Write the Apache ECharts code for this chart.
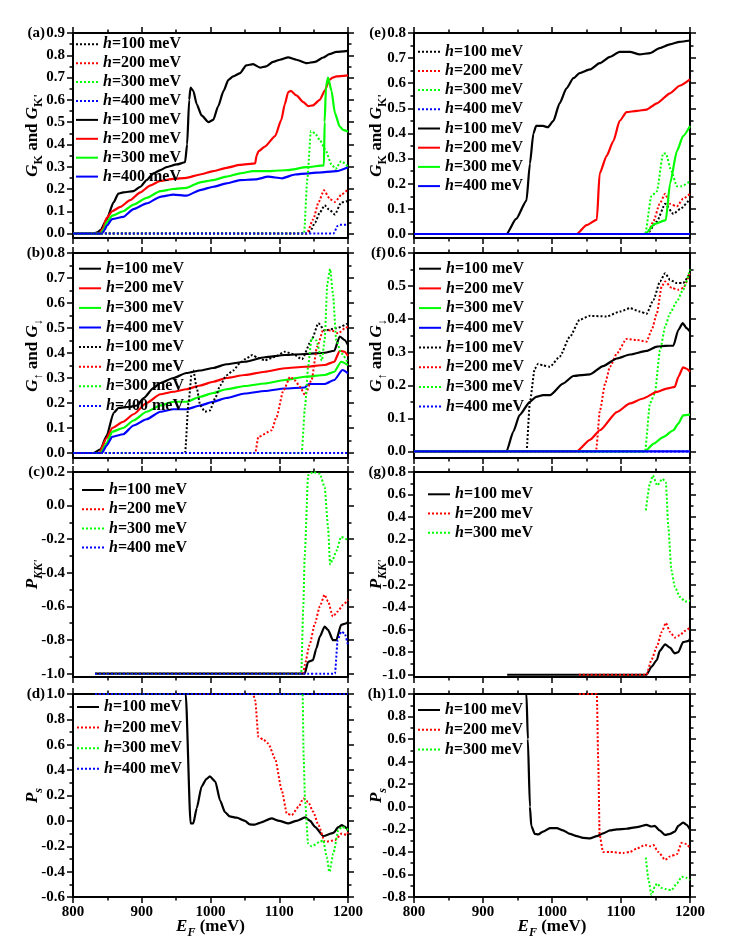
<!DOCTYPE html>
<html><head><meta charset="utf-8">
<script src="https://cdn.jsdelivr.net/npm/echarts@6/dist/echarts.min.js"></script>
<style>html,body{margin:0;padding:0;background:#fff}#c{width:747px;height:945px}</style>
</head><body><div id="c"></div>
<script>
const FONT = '"Liberation Serif","Times New Roman",serif';
// ---------- tick values ----------
const xTicks = [800, 900, 1000, 1100, 1200];
const yTicksA = [0, 0.1, 0.2, 0.3, 0.4, 0.5, 0.6, 0.7, 0.8, 0.9];
const yTicksB = [0, 0.1, 0.2, 0.3, 0.4, 0.5, 0.6, 0.7, 0.8];
const yTicksC = [-1.0, -0.8, -0.6, -0.4, -0.2, 0, 0.2];
const yTicksD = [-0.6, -0.4, -0.2, 0, 0.2, 0.4, 0.6, 0.8, 1.0];
const yTicksE = [0, 0.1, 0.2, 0.3, 0.4, 0.5, 0.6, 0.7, 0.8];
const yTicksF = [0, 0.1, 0.2, 0.3, 0.4, 0.5, 0.6];
const yTicksG = [-1.0, -0.8, -0.6, -0.4, -0.2, 0, 0.2, 0.4, 0.6, 0.8];
const yTicksH = [-0.8, -0.6, -0.4, -0.2, 0, 0.2, 0.4, 0.6, 0.8, 1.0];

// ---------- (a) G_K and G_K' ----------
const a_s100 = [[800,0],[830,0],[835,0.005],[840,0.015],[849,0.064],[859,0.14],[866,0.179],[873,0.185],[888,0.19],[898,0.21],[907,0.24],[917,0.27],[927,0.285],[936,0.298],[951,0.31],[963,0.32],[966,0.4],[969,0.6],[971,0.655],[975,0.64],[980,0.58],[987,0.53],[997,0.50],[1004,0.51],[1011,0.57],[1019,0.64],[1026,0.69],[1033,0.705],[1043,0.72],[1052,0.755],[1062,0.76],[1072,0.745],[1081,0.75],[1091,0.77],[1101,0.78],[1113,0.791],[1125,0.78],[1140,0.765],[1152,0.77],[1164,0.79],[1173,0.805],[1183,0.815],[1200,0.82]];
const a_s200 = [[800,0],[838,0],[843,0.02],[849,0.07],[857,0.10],[869,0.12],[883,0.15],[898,0.185],[912,0.215],[927,0.236],[946,0.245],[965,0.25],[985,0.265],[1004,0.28],[1023,0.295],[1043,0.308],[1065,0.315],[1067,0.35],[1070,0.37],[1079,0.39],[1094,0.437],[1103,0.51],[1108,0.58],[1113,0.635],[1117,0.64],[1125,0.62],[1135,0.59],[1142,0.572],[1149,0.575],[1159,0.60],[1166,0.64],[1173,0.69],[1178,0.70],[1183,0.705],[1200,0.71]];
const a_s300 = [[800,0],[840,0],[845,0.02],[849,0.05],[857,0.08],[873,0.10],[888,0.13],[907,0.16],[927,0.19],[946,0.20],[965,0.205],[985,0.23],[1004,0.24],[1023,0.255],[1043,0.27],[1062,0.28],[1081,0.28],[1101,0.283],[1113,0.285],[1140,0.298],[1165,0.306],[1166,0.5],[1168,0.66],[1171,0.70],[1176,0.64],[1181,0.54],[1188,0.48],[1193,0.465],[1200,0.457]];
const a_s400 = [[800,0],[842,0],[846,0.015],[849,0.035],[857,0.065],[873,0.075],[888,0.11],[907,0.135],[927,0.165],[946,0.175],[965,0.17],[985,0.195],[1004,0.21],[1023,0.225],[1043,0.24],[1065,0.243],[1084,0.255],[1104,0.248],[1123,0.265],[1142,0.27],[1166,0.276],[1183,0.28],[1200,0.298]];
const a_d100 = [[800,0],[1140,0],[1145,0.01],[1152,0.049],[1159,0.094],[1166,0.127],[1172,0.109],[1181,0.086],[1190,0.139],[1200,0.146]];
const a_d200 = [[800,0],[1140,0],[1149.5,0.064],[1157,0.139],[1165,0.194],[1174,0.154],[1181,0.142],[1191,0.176],[1200,0.198]];
const a_d300 = [[800,0],[1136,0],[1141,0.25],[1146,0.46],[1152,0.45],[1159,0.42],[1167,0.377],[1176,0.31],[1182,0.29],[1190,0.325],[1200,0.30]];
const a_d400 = [[800,0],[1179,0],[1185,0.035],[1188,0.04],[1200,0.04]];

// ---------- (b) G_up and G_down ----------
const b_s100 = [[800,0],[830,0],[840,0.015],[849,0.07],[859,0.16],[866,0.18],[883,0.185],[893,0.19],[903,0.22],[917,0.26],[927,0.28],[946,0.30],[965,0.32],[985,0.33],[1004,0.34],[1023,0.355],[1050,0.365],[1079,0.383],[1108,0.392],[1137,0.396],[1166,0.401],[1180,0.409],[1188,0.466],[1195,0.452],[1200,0.432]];
const b_s200 = [[800,0],[838,0],[849,0.06],[857,0.10],[873,0.125],[888,0.155],[907,0.20],[927,0.235],[946,0.245],[965,0.255],[985,0.27],[1004,0.285],[1023,0.30],[1050,0.312],[1079,0.325],[1108,0.339],[1137,0.345],[1166,0.352],[1180,0.365],[1188,0.409],[1195,0.405],[1200,0.388]];
const b_s300 = [[800,0],[840,0],[849,0.04],[857,0.085],[873,0.10],[888,0.13],[907,0.165],[927,0.19],[946,0.205],[965,0.205],[985,0.225],[1004,0.24],[1023,0.255],[1050,0.268],[1079,0.278],[1108,0.292],[1137,0.305],[1166,0.312],[1180,0.325],[1190,0.365],[1200,0.352]];
const b_s400 = [[800,0],[842,0],[849,0.03],[857,0.065],[873,0.075],[888,0.11],[907,0.135],[927,0.165],[946,0.175],[965,0.175],[985,0.19],[1004,0.205],[1023,0.22],[1050,0.238],[1079,0.248],[1108,0.258],[1137,0.262],[1143,0.276],[1166,0.276],[1180,0.292],[1192,0.332],[1200,0.319]];
const b_d100 = [[800,0],[963,0],[968,0.20],[973,0.33],[975,0.33],[980,0.26],[985,0.19],[992,0.165],[999,0.17],[1007,0.22],[1014,0.27],[1023,0.31],[1033,0.33],[1043,0.36],[1050,0.375],[1061,0.392],[1069,0.38],[1079,0.371],[1094,0.385],[1108,0.405],[1120,0.396],[1133,0.375],[1147,0.452],[1157,0.519],[1166,0.49],[1183,0.499],[1200,0.519]];
const b_d200 = [[800,0],[1065,0],[1069.6,0.064],[1089,0.091],[1096,0.144],[1106,0.25],[1116,0.305],[1123,0.29],[1130,0.265],[1137.5,0.232],[1147,0.292],[1155,0.425],[1164,0.492],[1176,0.49],[1186,0.479],[1195.6,0.499],[1200,0.506]];
const b_d300 = [[800,0],[1132.6,0],[1137.5,0.185],[1142,0.345],[1147,0.459],[1154,0.45],[1162,0.37],[1166,0.45],[1170,0.68],[1174,0.736],[1178,0.64],[1183,0.45],[1190,0.40],[1200,0.36]];
const b_d400 = [[800,0],[1200,0]];

// ---------- (c) P_KK' ----------
const c_s100 = [[832,-1],[1137,-1],[1142,-0.93],[1149,-0.92],[1154,-0.85],[1159,-0.78],[1166,-0.72],[1171,-0.74],[1178,-0.80],[1183,-0.80],[1190,-0.71],[1198,-0.70],[1200,-0.69]];
const c_d200 = [[832,-1],[1135,-1],[1137,-0.95],[1144,-0.83],[1152,-0.70],[1159,-0.60],[1166,-0.53],[1171,-0.57],[1178,-0.66],[1185,-0.63],[1193,-0.59],[1200,-0.56]];
const c_d300 = [[832,-1],[1132,-1],[1135,-0.6],[1137,-0.3],[1142,0.18],[1149,0.20],[1159,0.19],[1166,0.11],[1171,-0.13],[1174,-0.35],[1178,-0.32],[1183,-0.27],[1190,-0.186],[1200,-0.206]];
const c_d400 = [[832,-1],[1181,-1],[1185,-0.8],[1190,-0.75],[1195,-0.76],[1200,-0.83]];

// ---------- (d) P_s ----------
const d_s100 = [[832,1],[964,1],[971,-0.02],[975,-0.02],[980,0.1],[987,0.27],[994,0.33],[999,0.35],[1007,0.31],[1014,0.16],[1021,0.07],[1028,0.035],[1038,0.025],[1050,0.0],[1057,-0.028],[1064,-0.03],[1072,-0.015],[1089,0.019],[1100,0.0],[1113,-0.02],[1125,0.0],[1137.5,0.027],[1145,0.0],[1152,-0.047],[1164,-0.12],[1178.6,-0.095],[1186,-0.05],[1191,-0.034],[1195,-0.045],[1200,-0.073]];
const d_d200 = [[832,1],[1062,1],[1065,0.95],[1069.6,0.663],[1077,0.64],[1084,0.61],[1094,0.49],[1103.6,0.242],[1111,0.058],[1118,0.045],[1128,0.11],[1135,0.177],[1142,0.15],[1149.5,0.071],[1157,-0.034],[1166.5,-0.166],[1181,-0.152],[1191,-0.1],[1198,-0.11],[1200,-0.09]];
const d_d300 = [[832,1],[1134,1],[1135.5,0.5],[1137.5,0.163],[1142,-0.178],[1147,-0.2],[1159,-0.166],[1164,-0.152],[1169,-0.284],[1173,-0.402],[1178.6,-0.258],[1186,-0.073],[1191,-0.047],[1198,-0.06],[1200,-0.08]];
const d_d400 = [[832,1],[1200,1]];

// ---------- (e) G_K and G_K' ----------
const e_s100 = [[800,0],[934,0],[948,0.06],[963,0.133],[968,0.28],[973,0.40],[977,0.43],[987,0.43],[994,0.425],[1002,0.45],[1011,0.52],[1021,0.58],[1031,0.62],[1040,0.64],[1055,0.655],[1069,0.68],[1084,0.705],[1098,0.725],[1113,0.725],[1127,0.715],[1142,0.72],[1156,0.74],[1171,0.755],[1185,0.765],[1200,0.77]];
const e_s200 = [[800,0],[1036,0],[1050,0.035],[1065,0.057],[1069,0.24],[1079,0.31],[1089,0.37],[1098,0.45],[1108,0.485],[1123,0.49],[1137,0.495],[1152,0.52],[1171,0.56],[1185,0.59],[1200,0.615]];
const e_s300 = [[800,0],[1135,0],[1149,0.04],[1165,0.055],[1171,0.2],[1181,0.33],[1190,0.39],[1200,0.43]];
const e_s400 = [[800,0],[1200,0]];
const e_d100 = [[800,0],[1138,0],[1152,0.05],[1164,0.12],[1176,0.08],[1186,0.10],[1200,0.14]];
const e_d200 = [[800,0],[1138,0],[1147,0.05],[1156,0.12],[1164,0.16],[1171,0.12],[1181,0.11],[1190,0.14],[1200,0.16]];
const e_d300 = [[800,0],[1135,0],[1144,0.15],[1152,0.17],[1161,0.32],[1165,0.32],[1173,0.25],[1181,0.19],[1188,0.19],[1200,0.21]];
const e_d400 = [[800,0],[1200,0]];

// ---------- (f) G_up and G_down ----------
const f_s100 = [[800,0],[934,0],[944,0.06],[953,0.11],[968,0.15],[977,0.165],[987,0.17],[997,0.17],[1016,0.205],[1031,0.228],[1055,0.233],[1074,0.258],[1094,0.281],[1113,0.293],[1137,0.304],[1152,0.317],[1164,0.319],[1176,0.32],[1183,0.367],[1189.5,0.388],[1195,0.373],[1200,0.362]];
const f_s200 = [[800,0],[1036,0],[1055,0.035],[1069.5,0.064],[1094,0.119],[1113,0.145],[1132,0.16],[1152,0.18],[1166,0.19],[1178,0.195],[1183,0.225],[1190,0.254],[1195,0.25],[1200,0.241]];
const f_s300 = [[800,0],[1135,0],[1147,0.023],[1161,0.043],[1176,0.064],[1183,0.084],[1190,0.109],[1200,0.111]];
const f_s400 = [[800,0],[1200,0]];
const f_d100 = [[800,0],[963,0],[968,0.15],[975,0.25],[980,0.265],[987,0.26],[997,0.256],[1011,0.286],[1026,0.347],[1040,0.398],[1055,0.41],[1079,0.408],[1098.5,0.423],[1113,0.433],[1127.6,0.423],[1137,0.416],[1147,0.458],[1156.6,0.514],[1164,0.539],[1171,0.519],[1181,0.509],[1190,0.509],[1200,0.54]];
const f_d200 = [[800,0],[1063.7,0],[1069.5,0.124],[1077,0.205],[1084,0.256],[1094,0.296],[1108,0.34],[1123,0.337],[1137,0.332],[1144.5,0.367],[1152,0.418],[1159,0.499],[1164,0.514],[1173.5,0.494],[1183,0.489],[1190,0.494],[1200,0.54]];
const f_d300 = [[800,0],[1134.8,0],[1142,0.145],[1149,0.175],[1156.6,0.306],[1164,0.377],[1171,0.418],[1181,0.453],[1190,0.489],[1200,0.55]];
const f_d400 = [[800,0],[1200,0]];

// ---------- (g) P_KK' ----------
const g_s100 = [[935,-1],[1137,-1],[1144,-0.93],[1152,-0.87],[1156,-0.79],[1164,-0.73],[1171,-0.76],[1178,-0.81],[1183,-0.80],[1190,-0.71],[1198,-0.70],[1200,-0.68]];
const g_d200 = [[1039,-1],[1137,-1],[1144,-0.87],[1152,-0.75],[1159,-0.62],[1165,-0.54],[1171,-0.62],[1178,-0.67],[1185,-0.65],[1193,-0.61],[1200,-0.58]];
const g_d300 = [[1136,0.46],[1142,0.70],[1146,0.77],[1152.6,0.68],[1160,0.74],[1165,0.71],[1168.6,0.31],[1173,-0.07],[1178,-0.22],[1185.5,-0.31],[1193,-0.35],[1200,-0.34]];

// ---------- (h) P_s ----------
const h_s100 = [[935,1],[963,1],[965,0.6],[968,0.0],[970,-0.17],[975,-0.24],[980,-0.245],[987,-0.22],[997,-0.19],[1007,-0.19],[1016,-0.21],[1026,-0.24],[1036,-0.26],[1045,-0.275],[1055,-0.28],[1065,-0.26],[1074,-0.235],[1084,-0.21],[1094,-0.20],[1108,-0.195],[1123,-0.18],[1137,-0.16],[1144,-0.175],[1149,-0.17],[1156,-0.21],[1164,-0.25],[1171,-0.24],[1178,-0.22],[1183,-0.17],[1190,-0.14],[1195,-0.16],[1200,-0.20]];
const h_d200 = [[1039,1],[1065,1],[1067,0.4],[1069,-0.25],[1074,-0.40],[1084,-0.40],[1103,-0.41],[1113,-0.40],[1123,-0.37],[1135,-0.34],[1142,-0.35],[1147,-0.34],[1154,-0.40],[1164,-0.47],[1171,-0.44],[1181,-0.42],[1188,-0.32],[1195,-0.33],[1200,-0.37]];
const h_d300 = [[1136,-0.45],[1140,-0.65],[1144,-0.78],[1149,-0.71],[1152,-0.68],[1159,-0.72],[1165,-0.73],[1173,-0.74],[1181,-0.68],[1188,-0.62],[1195,-0.63],[1200,-0.65]];

// ---------- layout ----------
const COLORS = {'100':'#000000','200':'#ff0000','300':'#00ff00','400':'#0000ff'};
const LW = 275, RW = 276, LX = 73, RX = 414;
const panels = [
  {id:'a', left:LX, width:LW, top:33, height:205, ymin:-0.02, ymax:0.9, ticks:yTicksA, title:'GK', xlab:false,
   draw:[['a_s100',a_s100,0],['a_s200',a_s200,0],['a_s300',a_s300,0],['a_s400',a_s400,0],['a_d100',a_d100,1],['a_d200',a_d200,1],['a_d300',a_d300,1],['a_d400',a_d400,1]],
   legend:['a_d100','a_d200','a_d300','a_d400','a_s100','a_s200','a_s300','a_s400'], lg:{left:75, top:36.3, gap:2.9}},
  {id:'b', left:LX, width:LW, top:253, height:205, ymin:-0.02, ymax:0.8, ticks:yTicksB, title:'GUD', xlab:false,
   draw:[['b_s100',b_s100,0],['b_s200',b_s200,0],['b_s300',b_s300,0],['b_s400',b_s400,0],['b_d100',b_d100,1],['b_d200',b_d200,1],['b_d300',b_d300,1],['b_d400',b_d400,1]],
   legend:['b_s100','b_s200','b_s300','b_s400','b_d100','b_d200','b_d300','b_d400'], lg:{left:78, top:260.7, gap:3.6}},
  {id:'c', left:LX, width:LW, top:472, height:205, ymin:-1.02, ymax:0.2, ticks:yTicksC, title:'PKK', xlab:false,
   draw:[['c_s100',c_s100,0],['c_d200',c_d200,1],['c_d300',c_d300,1],['c_d400',c_d400,1]],
   legend:['c_s100','c_d200','c_d300','c_d400'], lg:{left:81, top:482, gap:3.2}},
  {id:'d', left:LX, width:LW, top:694, height:203, ymin:-0.6, ymax:1.0, ticks:yTicksD, title:'PS', xlab:true,
   draw:[['d_s100',d_s100,0],['d_d200',d_d200,1],['d_d300',d_d300,1],['d_d400',d_d400,1]],
   legend:['d_s100','d_d200','d_d300','d_d400'], lg:{left:76, top:699, gap:4.6}},
  {id:'e', left:RX, width:RW, top:33, height:205, ymin:-0.016, ymax:0.8, ticks:yTicksE, title:'GK', xlab:false,
   draw:[['e_d100',e_d100,1],['e_d200',e_d200,1],['e_d300',e_d300,1],['e_d400',e_d400,1],['e_s100',e_s100,0],['e_s200',e_s200,0],['e_s300',e_s300,0],['e_s400',e_s400,0]],
   legend:['e_d100','e_d200','e_d300','e_d400','e_s100','e_s200','e_s300','e_s400'], lg:{left:417, top:43.7, gap:3.2}},
  {id:'f', left:RX, width:RW, top:253, height:205, ymin:-0.02, ymax:0.6, ticks:yTicksF, title:'GUD', xlab:false,
   draw:[['f_d100',f_d100,1],['f_d200',f_d200,1],['f_d300',f_d300,1],['f_d400',f_d400,1],['f_s100',f_s100,0],['f_s200',f_s200,0],['f_s300',f_s300,0],['f_s400',f_s400,0]],
   legend:['f_s100','f_s200','f_s300','f_s400','f_d100','f_d200','f_d300','f_d400'], lg:{left:418, top:260.7, gap:3.7}},
  {id:'g', left:RX, width:RW, top:472, height:205, ymin:-1.02, ymax:0.8, ticks:yTicksG, title:'PKK', xlab:false,
   draw:[['g_s100',g_s100,0],['g_d200',g_d200,1],['g_d300',g_d300,1]],
   legend:['g_s100','g_d200','g_d300'], lg:{left:427, top:486.3, gap:3.2}},
  {id:'h', left:RX, width:RW, top:694, height:203, ymin:-0.8, ymax:1.0, ticks:yTicksH, title:'PS', xlab:true,
   draw:[['h_s100',h_s100,0],['h_d200',h_d200,1],['h_d300',h_d300,1]],
   legend:['h_s100','h_d200','h_d300'], lg:{left:417, top:702, gap:3.7}}
];

const TITLES = {
  GK: "{i|G}{s|K}{n| and }{i|G}{s|K'}",
  GUD: "{i|G}{s|\u2191}{n| and }{i|G}{s|\u2193}",
  PKK: "{i|P}{si|KK'}",
  PS: "{i|P}{si|s}"
};
const titleRich = {
  i: {fontFamily: FONT, fontWeight: 'bold', fontStyle: 'italic', fontSize: 17, lineHeight: 24, color: '#000'},
  n: {fontFamily: FONT, fontWeight: 'bold', fontSize: 17, lineHeight: 24, color: '#000'},
  s: {fontFamily: FONT, fontWeight: 'bold', fontSize: 12, lineHeight: 12, verticalAlign: 'bottom', color: '#000'},
  si: {fontFamily: FONT, fontWeight: 'bold', fontStyle: 'italic', fontSize: 12, lineHeight: 12, verticalAlign: 'bottom', color: '#000'}
};

const AX = {color: '#000', width: 2};
const TK = {color: '#000', width: 1.5};
const grid = [], xAxis = [], yAxis = [], series = [], legend = [], graphic = [];
const fmt = v => Number(v).toFixed(1);

panels.forEach(p => {
  const gMain = grid.length;
  grid.push({left: p.left, top: p.top, width: p.width, height: p.height, containLabel: false});
  const gMin = grid.length;
  grid.push({left: p.left, top: p.top, width: p.width, height: p.height, containLabel: false});
  const xb = xAxis.length;
  const xCommon = {type: 'value', min: xTicks[0], max: xTicks[xTicks.length - 1], interval: 100,
    axisLine: {show: true, onZero: false, lineStyle: AX}, splitLine: {show: false},
    axisTick: {show: true, inside: false, length: 6, lineStyle: TK},
    minorTick: {show: true, splitNumber: 2, length: 3.5, lineStyle: TK}};
  xAxis.push(Object.assign({}, xCommon, {gridIndex: gMain, position: 'bottom',
    axisLabel: {show: p.xlab, formatter: v => String(v), color: '#000', fontFamily: FONT, fontWeight: 'bold', fontSize: 15, margin: 8}}));
  xAxis.push(Object.assign({}, xCommon, {gridIndex: gMain, position: 'top', axisLabel: {show: false}}));
  xAxis.push({type: 'value', gridIndex: gMin, show: false, min: 800, max: 1200});
  const yl = yAxis.length;
  const minors = [];
  for (let k = 0; k < p.ticks.length - 1; k++) minors.push((p.ticks[k] + p.ticks[k + 1]) / 2);
  const yCommon = {type: 'value', min: p.ymin, max: p.ymax, splitLine: {show: false},
    axisLine: {show: true, onZero: false, lineStyle: AX},
    axisTick: {show: true, inside: false, length: 6, lineStyle: TK, customValues: p.ticks}};
  yAxis.push(Object.assign({}, yCommon, {gridIndex: gMain, position: 'left',
    axisLabel: {show: true, customValues: p.ticks, formatter: fmt, color: '#000', fontFamily: FONT, fontWeight: 'bold', fontSize: 15, margin: 8}}));
  yAxis.push(Object.assign({}, yCommon, {gridIndex: gMain, position: 'right', axisLabel: {show: false}}));
  const yMinor = {type: 'value', min: p.ymin, max: p.ymax, splitLine: {show: false}, axisLine: {show: false},
    axisLabel: {show: false}, axisTick: {show: true, inside: false, length: 3.5, lineStyle: TK, customValues: minors}};
  yAxis.push(Object.assign({}, yMinor, {gridIndex: gMin, position: 'left'}));
  yAxis.push(Object.assign({}, yMinor, {gridIndex: gMin, position: 'right'}));

  p.draw.forEach(([name, data, dotted]) => {
    const h = name.slice(-3);
    series.push({type: 'line', name, data, xAxisIndex: xb, yAxisIndex: yl, symbol: 'none', showSymbol: false,
      smooth: 0.2, smoothMonotone: 'x', animation: false, silent: true,
      lineStyle: {color: COLORS[h], width: dotted ? 2 : 2.2, type: dotted ? [2, 2] : 'solid'},
      itemStyle: {color: COLORS[h], opacity: 0}});
  });

  legend.push({data: p.legend, left: p.lg.left, top: p.lg.top, orient: 'vertical', itemGap: p.lg.gap,
    itemWidth: 22, itemHeight: 14, padding: 0, selectedMode: false,
    itemStyle: {opacity: 0},
    formatter: n => '{i|h}=' + n.slice(-3) + ' meV',
    textStyle: {color: '#000', fontFamily: FONT, fontWeight: 'bold', fontSize: 16, lineHeight: 14,
      rich: {i: {fontFamily: FONT, fontWeight: 'bold', fontStyle: 'italic', fontSize: 16, lineHeight: 14, color: '#000'}}}});

  const isLeft = p.left === LX;
  graphic.push({type: 'text', x: isLeft ? 45 : 386, y: p.top, silent: true,
    style: {text: '(' + p.id + ')', font: 'bold 15px ' + FONT, fill: '#000', align: 'right', verticalAlign: 'middle'}});
  graphic.push({type: 'text', x: isLeft ? 33 : 377, y: p.top + p.height / 2, rotation: Math.PI / 2, silent: true,
    style: {text: TITLES[p.title], rich: titleRich, align: 'center', verticalAlign: 'middle', fill: '#000'}});
  if (p.xlab) {
    graphic.push({type: 'text', x: p.left + p.width / 2, y: 927, silent: true,
      style: {text: '{i|E}{si|F}{n| (meV)}', rich: titleRich, align: 'center', verticalAlign: 'middle', fill: '#000'}});
  }
});

const chart = echarts.init(document.getElementById('c'), null, {renderer: 'canvas'});
chart.setOption({backgroundColor: '#fff', animation: false, grid, xAxis, yAxis, series, legend, graphic});
</script></body></html>
